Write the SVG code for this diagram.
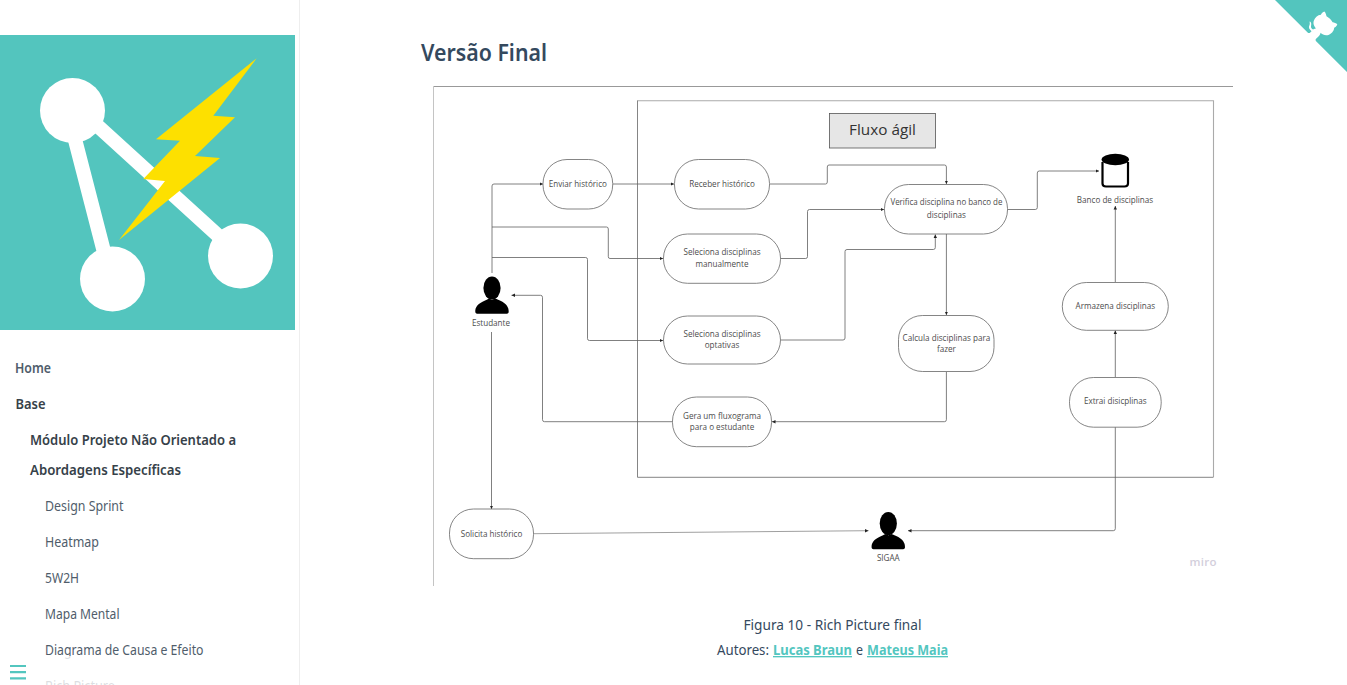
<svg xmlns="http://www.w3.org/2000/svg" width="1347" height="685" viewBox="0 0 1347 685">
<style>
.n{fill:#fff;stroke:#666;stroke-width:.8}
.c{fill:none;stroke:#606060;stroke-width:.8;stroke-linejoin:round}
.a{marker-end:url(#arr)}
.l{font-family:"Open Sans","Noto Sans",sans-serif;font-size:8.1px;fill:#4c4c4c;text-anchor:middle}
.s{font-family:"Noto Sans","Open Sans",sans-serif;font-size:14px;fill:#505d6b}
.h{font-weight:600}
.d{fill:#364149;font-weight:600}
.m{font-family:"Noto Sans","Open Sans",sans-serif;font-size:14.5px;fill:#34495e}
.k{fill:#53c6bf;font-weight:700;font-size:13.5px;text-decoration:underline}
.t{fill:#53c5be}
</style>
<defs>
<marker id="arr" markerUnits="userSpaceOnUse" markerWidth="4" markerHeight="4" refX="3.5" refY="2" orient="auto"><path d="M0,.3L3.5,2L0,3.7z" fill="#222"/></marker>
<g id="person"><ellipse cx="0" cy="-7" rx="8.6" ry="11.5" fill="#000"/><path d="M-16.7,17C-17,12-14,9-9,6.5C-6,5-4,4-3,3.5C-1,5 1,5 3,3.5C5,4 7,5 10,6.5C14,9 17,12 16.7,17C16.5,18.5 15,18.7 14,18.7L-14,18.7C-15,18.7-16.5,18.5-16.7,17z" fill="#000"/></g>
</defs>
<rect width="1347" height="685" fill="#fff"/>

<g id="sidebar">
<rect x="299" y="0" width="1" height="685" fill="#eee"/>
<rect class="t" x="0" y="35" width="295" height="295"/>
<path d="M67.5,110.5L111,279M72.5,103L240.5,256" stroke="#fff" stroke-width="14.3" fill="none"/>
<circle cx="72.5" cy="110.5" r="32.5" fill="#fff"/><circle cx="112.5" cy="279" r="32.5" fill="#fff"/><circle cx="240.5" cy="256" r="32.5" fill="#fff"/>
<polygon points="119,240 165,181 143.3,179 180,140.7 156,139.3 256.7,58.3 213.3,115.7 235,117.3 195,156 220,158" fill="#fde000"/>
<text class="s h" x="15" y="373" textLength="36" lengthAdjust="spacingAndGlyphs">Home</text>
<text class="s d" x="15.5" y="409" style="font-size:15px" textLength="30" lengthAdjust="spacingAndGlyphs">Base</text>
<text class="s d" x="30" y="445" textLength="206" lengthAdjust="spacingAndGlyphs">Módulo Projeto Não Orientado a</text>
<text class="s d" x="30" y="475" textLength="151" lengthAdjust="spacingAndGlyphs">Abordagens Específicas</text>
<text class="s" x="45" y="511" textLength="78.5" lengthAdjust="spacingAndGlyphs">Design Sprint</text>
<text class="s" x="45" y="547" textLength="54" lengthAdjust="spacingAndGlyphs">Heatmap</text>
<text class="s" x="45" y="583" textLength="34" lengthAdjust="spacingAndGlyphs">5W2H</text>
<text class="s" x="45" y="619" textLength="74.5" lengthAdjust="spacingAndGlyphs">Mapa Mental</text>
<text class="s" x="45" y="655" textLength="158.5" lengthAdjust="spacingAndGlyphs">Diagrama de Causa e Efeito</text>
<text class="s" x="45" y="691" textLength="70" lengthAdjust="spacingAndGlyphs">Rich Picture</text>
<rect x="0" y="656" width="299" height="29" fill="#fff" fill-opacity=".8"/>
<path d="M10,666H26M10,672.2H26M10,678.4H26" stroke="#53c6bf" stroke-width="2.2"/>
</g>

<g id="corner" transform="translate(1275,0) scale(.288)">
<path class="t" d="M0,0L115,115L130,115L142,142L250,250L250,0Z"/>
<path fill="#fff" d="M128.3,109C113.8,99.7 119,89.6 119,89.6C122,82.7 120.5,78.6 120.5,78.6C119.2,72 123.4,76.3 123.4,76.3C127.3,80.9 125.5,87.3 125.5,87.3C122.9,97.6 130.6,101.9 134.4,103.2"/>
<path fill="#fff" d="M115,115C114.9,115.1 118.7,116.5 119.8,115.4L133.7,101.6C136.9,99.2 139.9,98.4 142.2,98.6C133.8,88 127.5,74.4 143.8,58C148.5,53.4 154,51.2 159.7,51C160.3,49.4 163.2,43.6 171.4,40.1C171.4,40.1 176.1,42.5 178.8,56.2C183.1,58.6 187.2,61.8 190.9,65.4C194.5,69 197.7,73.2 200.1,77.6C213.8,80.2 216.3,84.9 216.3,84.9C212.7,93.1 206.9,96 205.4,96.6C205.1,102.4 203,107.8 198.3,112.5C181.9,128.9 168.3,122.5 157.7,114.1C157.9,116.9 156.7,120.9 152.7,124.9L141,136.5C139.8,137.7 141.6,141.9 141.8,141.8Z"/>
</g>

<text id="title" x="421" y="61" font-family="'Noto Sans','Open Sans',sans-serif" font-size="22.5" font-weight="600" fill="#34495e" textLength="126" lengthAdjust="spacingAndGlyphs">Versão Final</text>

<g id="frame" fill="none">
<path d="M433.5,86.5H1233" stroke="#999"/>
<path d="M433.5,86.5V586" stroke="#c4c4c4"/>
<path d="M637.5,100.7H1213.5V477" stroke="#aaa" stroke-width="1.1"/>
<path d="M637.5,100.5V477.3H1213.5" stroke="#666" stroke-width=".8"/>
</g>

<g id="connectors">
<path class="c a" d="M492,273V186Q492,184 494,184H543"/>
<path class="c a" d="M492,227H606.5Q608.3,227 608.3,229V256.7Q608.3,258.5 610,258.5H663"/>
<path class="c a" d="M492,257.5H585.7Q587.5,257.5 587.5,259.5V338.7Q587.5,340.5 589.5,340.5H663"/>
<path class="c a" d="M613,184H674"/>
<path class="c a" d="M770,184H825.5Q827.3,184 827.3,182V167Q827.3,165 829,165H944.5Q946.4,165 946.4,167V184"/>
<path class="c a" d="M781,258.5H805.7Q807.5,258.5 807.5,256.5V211.5Q807.5,209.5 809.5,209.5H884"/>
<path class="c a" d="M781,340H843Q845,340 845,338V251.5Q845,249.5 847,249.5H933.3Q935.3,249.5 935.3,247.5V234.5"/>
<path class="c a" d="M946.4,234V315"/>
<path class="c a" d="M946.4,372V419.7Q946.4,421.7 944.4,421.7H772"/>
<path class="c a" d="M672,421.7H544.5Q542.5,421.7 542.5,419.7V297.3Q542.5,295.3 540.5,295.3H511.5"/>
<path class="c a" d="M491.5,332V509"/>
<path class="c a" style="stroke:#888" d="M534,533.7L868.5,530.7"/>
<path class="c a" d="M1115.3,427V528.7Q1115.3,530.7 1113.3,530.7H908"/>
<path class="c a" d="M1115.3,377V330.5"/>
<path class="c a" d="M1115.3,282V206"/>
<path class="c a" d="M1008,209.5H1035.3Q1037.3,209.5 1037.3,207.5V173Q1037.3,171 1039.3,171H1099"/>
</g>

<g id="fluxo-agil"><rect x="829.5" y="113.5" width="106" height="34.5" fill="#e6e6e6" stroke="#555" stroke-width=".8"/><text x="882.5" y="135" text-anchor="middle" font-family="'Open Sans','Noto Sans',sans-serif" font-size="15.3" fill="#333">Fluxo ágil</text></g>
<g id="enviar"><rect class="n" x="543" y="159.5" width="69.7" height="49.5" rx="24"/><text class="l" x="577.8" y="187">Enviar histórico</text></g>
<g id="receber"><rect class="n" x="674.5" y="159.5" width="95" height="49.5" rx="24"/><text class="l" x="722" y="187">Receber histórico</text></g>
<g id="manual"><rect class="n" x="663.5" y="234" width="117" height="49.3" rx="24"/><text class="l" x="722" y="254.5">Seleciona disciplinas</text><text class="l" x="722" y="267">manualmente</text></g>
<g id="optativas"><rect class="n" x="663.5" y="316" width="117" height="48" rx="24"/><text class="l" x="722" y="337">Seleciona disciplinas</text><text class="l" x="722" y="348">optativas</text></g>
<g id="gera"><rect class="n" x="672.5" y="397" width="99" height="49.7" rx="24"/><text class="l" x="722" y="418.5">Gera um fluxograma</text><text class="l" x="722" y="430">para o estudante</text></g>
<g id="solicita"><rect class="n" x="449.5" y="509" width="84" height="49.7" rx="24"/><text class="l" x="491.5" y="536.5">Solicita histórico</text></g>
<g id="verifica"><rect class="n" x="884.5" y="184.5" width="123" height="49.5" rx="24"/><text class="l" x="946.4" y="205" textLength="112" lengthAdjust="spacingAndGlyphs">Verifica disciplina no banco de</text><text class="l" x="946.4" y="218">disciplinas</text></g>
<g id="calcula"><rect class="n" x="898.5" y="315.5" width="95.5" height="56" rx="24"/><text class="l" x="946.4" y="340.5">Calcula disciplinas para</text><text class="l" x="946.4" y="351.5">fazer</text></g>
<g id="armazena"><rect class="n" x="1062.3" y="282.5" width="106" height="47.8" rx="24"/><text class="l" x="1115.3" y="309">Armazena disciplinas</text></g>
<g id="extrai"><rect class="n" x="1069.5" y="377.5" width="91.7" height="49.7" rx="24"/><text class="l" x="1115.3" y="404">Extrai disicplinas</text></g>

<g id="estudante"><use href="#person" x="492" y="295"/><text class="l" x="491" y="326">Estudante</text></g>
<g id="sigaa"><use href="#person" x="888.3" y="530.5"/><text class="l" x="888.3" y="561">SIGAA</text></g>
<g id="banco"><path d="M1102.5,162V183.5Q1102.5,186.5 1106,186.5H1124.5Q1128,186.5 1128,183.5V162" fill="#fff" stroke="#000" stroke-width="2.2"/><ellipse cx="1115.3" cy="159.5" rx="13.7" ry="5.8" fill="#000"/><text class="l" x="1115" y="202.5">Banco de disciplinas</text></g>

<text id="miro" x="1189.5" y="565.5" font-family="'Open Sans','Noto Sans',sans-serif" font-size="11.5" font-weight="600" fill="#d3cfdc" textLength="27" lengthAdjust="spacing">miro</text>

<g id="caption">
<text class="m" x="743.5" y="630" textLength="178" lengthAdjust="spacingAndGlyphs">Figura 10 - Rich Picture final</text>
<text class="m" x="717" y="655" textLength="52" lengthAdjust="spacingAndGlyphs">Autores:</text>
<text class="m k" x="773" y="655" textLength="79" lengthAdjust="spacingAndGlyphs">Lucas Braun</text>
<text class="m" x="856" y="655" textLength="7" lengthAdjust="spacingAndGlyphs">e</text>
<text class="m k" x="867" y="655" textLength="81" lengthAdjust="spacingAndGlyphs">Mateus Maia</text>
</g>
</svg>
